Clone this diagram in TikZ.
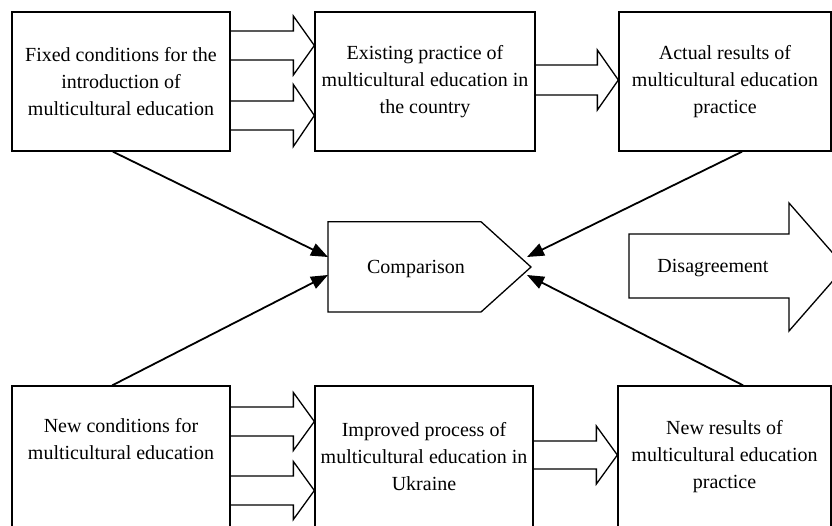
\documentclass[tikz,border=0pt]{standalone}
\usepackage{fontspec}
\setmainfont{Liberation Serif}
\usetikzlibrary{arrows.meta,calc,positioning}

% wide outlined arrow: start point, target node anchor, half shaft, half head
\newcommand{\fatarrow}[4]{%
  \draw[blockline] let \p1=#1, \p2=#2 in
    (\x1,\y1+#3) -- (\x2-21pt,\y1+#3) -- (\x2-21pt,\y1+#4) -- (\x2,\y1)
    -- (\x2-21pt,\y1-#4) -- (\x2-21pt,\y1-#3) -- (\x1,\y1-#3);
}

\begin{document}
\begin{tikzpicture}[x=1pt, y=-1pt,
    box/.style={draw, line width=1.3pt, minimum width=218pt, minimum height=139pt,
      align=center, inner sep=2pt, font=\fontsize{20}{27}\selectfont},
    txt/.style={align=center, font=\fontsize{20}{27}\selectfont},
    blockline/.style={line width=1.3pt, line join=miter},
    link/.style={line width=1.8pt, -{Triangle[length=17pt,width=13pt]}}]

    \useasboundingbox (0,0) rectangle (832,525);
    \clip (0,0) rectangle (832,525);

    % Top row
    \node[box] (fixed) at (121,81.5) {Fixed conditions for the\\introduction of\\multicultural education};
    \node[box, minimum width=220pt] (existing) at (425,81.5) {Existing practice of\\multicultural education in\\the country};
    \node[box, minimum width=212pt] (actual) at (725,81.5) {Actual results of\\multicultural education\\practice};

    % Bottom row
    \node[box, minimum height=142pt] (newcond) at (121,457) {};
    \node[txt, below=30pt of newcond.north] (newcondtxt) {New conditions for\\multicultural education};
    \node[box, minimum height=142pt] (improved) at (424,457) {Improved process of\\multicultural education in\\Ukraine};
    \node[box, minimum width=213pt, minimum height=142pt] (newres) at (724.5,457) {New results of\\multicultural education\\practice};

    % Comparison
    \draw[blockline] (328,221.7) -- (481,221.7) -- (531,267) -- (481,312) -- (328,312) -- cycle;
    \node[txt] (comp) at (416,269) {Comparison};
    \coordinate (cmpnw) at (328,257);
    \coordinate (cmpsw) at (328,275);
    \coordinate (cmpne) at (527,257);
    \coordinate (cmpse) at (527,275);

    % Disagreement
    \draw[blockline] (629,234) -- (789,234) -- (789,203) -- (845,267) -- (789,331) -- (789,298) -- (629,298) -- cycle;
    \node[txt] (disagree) at (713,268) {Disagreement};

    % Wide arrows between the boxes
    \fatarrow{($(fixed.east)+(0,-36)$)}{(existing.west)}{14.5pt}{29.5pt}
    \fatarrow{($(fixed.east)+(0,34)$)}{(existing.west)}{14.5pt}{31pt}
    \fatarrow{($(existing.east)+(0,-1.5)$)}{(actual.west)}{15pt}{30pt}
    \fatarrow{($(newcond.east)+(0,-35.5)$)}{(improved.west)}{14.5pt}{29pt}
    \fatarrow{($(newcond.east)+(0,33.5)$)}{(improved.west)}{14.5pt}{29pt}
    \fatarrow{($(improved.east)+(0,-2)$)}{(newres.west)}{14pt}{29pt}

    % Links to the comparison
    \draw[link] ($(fixed.south west)!.463!(fixed.south east)$) -- (cmpnw);
    \draw[link] ($(actual.south west)!.58!(actual.south east)$) -- (cmpne);
    \draw[link] ($(newcond.north west)!.46!(newcond.north east)$) -- (cmpsw);
    \draw[link] ($(newres.north west)!.587!(newres.north east)$) -- (cmpse);
\end{tikzpicture}
\end{document}
